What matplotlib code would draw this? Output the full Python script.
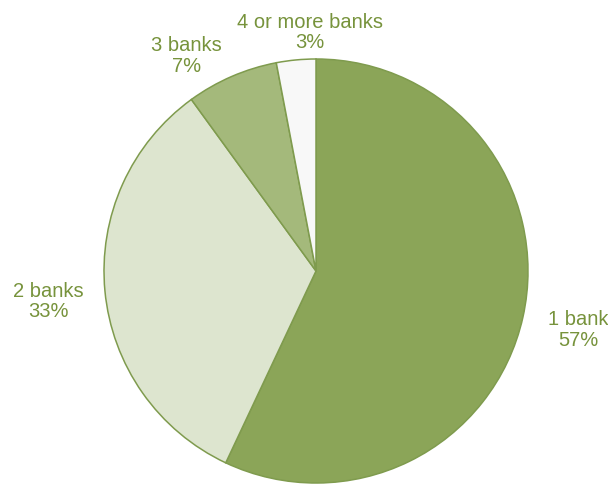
import matplotlib
matplotlib.use("Agg")
import matplotlib.pyplot as plt
import numpy as np

categories = ["1 bank", "2 banks", "3 banks", "4 or more banks"]
shares = [57, 33, 7, 3]
colors = ["#8BA558", "#DDE5CF", "#A4B97B", "#F8F8F8"]
# label placement: (angle in degrees, distance as fraction of radius)
label_polar = [(-12.7, 1.27), (-173.5, 1.272), (121.1, 1.184), (91.4, 1.125)]

text_color = "#77933C"
edge_color = "#7F9B4E"

W, H, DPI = 608, 484, 100
fig = plt.figure(figsize=(W / DPI, H / DPI), dpi=DPI)
ax = fig.add_axes([0, 0, 1, 1])

ax.pie(shares, colors=colors, startangle=90, counterclock=False,
       wedgeprops=dict(edgecolor=edge_color, linewidth=1.1))

# map the unit pie onto the canvas: centre at (316, 271) px, radius 212 px
cx, cy, r = 316, 271, 212
ax.set_xlim(-cx / r, (W - cx) / r)
ax.set_ylim(-(H - cy) / r, cy / r)
ax.set_aspect("auto")
ax.axis("off")

for cat, val, (ang, dist) in zip(categories, shares, label_polar):
    a = np.deg2rad(ang)
    ax.text(dist * np.cos(a), dist * np.sin(a), f"{cat}\n{val}%",
            ha="center", va="center", color=text_color,
            fontsize=14.5, family="Liberation Sans", linespacing=1.1)

fig.savefig("out.png", dpi=DPI, facecolor="white")
